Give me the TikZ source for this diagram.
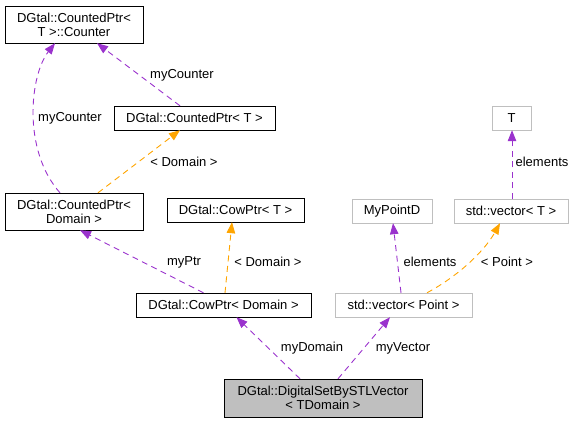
\documentclass[tikz,border=0pt]{standalone}
\usepackage{fontspec}
\setmainfont{Liberation Sans}
\usetikzlibrary{arrows.meta}
\definecolor{dxpurple}{HTML}{9A32CD}
\definecolor{dxorange}{HTML}{FFA500}
\definecolor{dxgray}  {HTML}{BFBFBF}

\begin{document}
\begin{tikzpicture}[x=1pt,y=-1pt,
      cls/.style={draw=black,fill=white,align=center,inner sep=0pt,
                  font=\fontsize{13}{14.2}\selectfont},
      ext/.style={cls,draw=dxgray},
      lbl/.style={font=\fontsize{13}{14.2}\selectfont,inner sep=0pt,text=black},
      uses/.style={-{Triangle[length=11pt,width=8.5pt]},dxpurple,
                   line width=0.9pt,dash pattern=on 6pt off 4.5pt},
      tmpl/.style={uses,dxorange}]
    \useasboundingbox (0,0) rectangle (575,423);
    \node[cls,minimum width=138pt,minimum height=37pt] (counter) at (74,24.5)
      {DGtal::CountedPtr<\\T >::Counter};
    \node[cls,minimum width=161pt,minimum height=24pt] (cpT) at (194.5,118)
      {DGtal::CountedPtr< T >};
    \node[cls,minimum width=138pt,minimum height=37pt] (cpdom) at (74,211.5)
      {DGtal::CountedPtr<\\Domain >};
    \node[cls,minimum width=137pt,minimum height=24pt] (cowT) at (235.5,210)
      {DGtal::CowPtr< T >};
    \node[cls,minimum width=175pt,minimum height=24pt] (cowdom) at (223.5,305)
      {DGtal::CowPtr< Domain >};
    \node[cls,fill=dxgray,minimum width=198pt,minimum height=38pt] (set) at (323,398)
      {DGtal::DigitalSetBySTLVector\\< TDomain >};
    \node[ext,minimum width=137pt,minimum height=24pt] (vecpt) at (403.5,305)
      {std::vector< Point >};
    \node[ext,minimum width=80pt,minimum height=24pt] (mypt) at (392,211)
      {MyPointD};
    \node[ext,minimum width=114pt,minimum height=24pt] (vecT) at (511,211)
      {std::vector< T >};
    \node[ext,minimum width=39pt,minimum height=24pt] (T) at (511.5,118) {T};
    \draw[uses] ([xshift=-14pt]cpdom.north) .. controls (22,150) and (30,75)
      .. ([xshift=-19pt]counter.south) node[lbl] at (70,118) {myCounter};
    \draw[uses] ([xshift=-14.5pt]cpT.north) -- ([xshift=23pt]counter.south)
      node[lbl] at (182,75) {myCounter};
    \draw[tmpl] ([xshift=24pt]cpdom.north) -- ([xshift=-14.5pt]cpT.south)
      node[lbl] at (184,162) {< Domain >};
    \draw[uses] ([xshift=-20pt]cowdom.north) -- ([xshift=6pt]cpdom.south)
      node[lbl] at (184,262) {myPtr};
    \draw[tmpl] ([xshift=1.5pt]cowdom.north) -- ([xshift=-3.5pt]cowT.south)
      node[lbl] at (268,262) {< Domain >};
    \draw[uses] ([xshift=-23pt]set.north) -- ([xshift=13pt]cowdom.south)
      node[lbl] at (312,348) {myDomain};
    \draw[uses] ([xshift=15pt]set.north) -- ([xshift=-13.5pt]vecpt.south)
      node[lbl] at (403,348) {myVector};
    \draw[uses] ([xshift=-2.5pt]vecpt.north) -- ([xshift=1pt]mypt.south)
      node[lbl] at (430,262) {elements};
    \draw[tmpl] ([xshift=23.5pt]vecpt.north) .. controls (460,275) and (485,250)
      .. ([xshift=-11pt]vecT.south) node[lbl] at (507,262) {< Point >};
    \draw[uses] ([xshift=1pt]vecT.north) -- ([xshift=0.5pt]T.south)
      node[lbl] at (542,162) {elements};
  \end{tikzpicture}
\end{document}
